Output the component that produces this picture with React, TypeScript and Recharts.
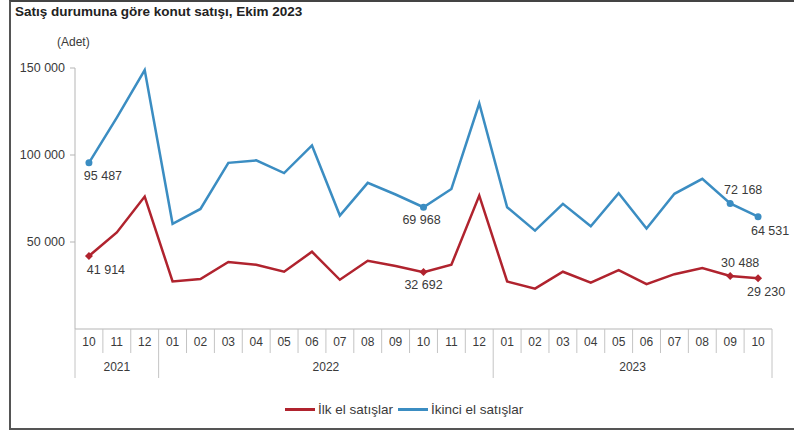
import { LineChart, Line, XAxis, YAxis, LabelList } from 'recharts';

const months = ['10', '11', '12', '01', '02', '03', '04', '05', '06', '07', '08', '09', '10', '11', '12', '01', '02', '03', '04', '05', '06', '07', '08', '09', '10'];
const years = ['2021', '2022', '2023'];
const yearStart = [0, 3, 15];
const ilkEl = [41914, 55500, 76100, 27300, 28700, 38500, 36900, 32900, 44400, 28300, 39200, 36200, 32692, 36900, 76700, 27300, 23200, 32900, 26700, 33800, 25800, 31500, 35000, 30488, 29230];
const ikinciEl = [95487, 121500, 148800, 60500, 69000, 95500, 96900, 89600, 105500, 65200, 84000, 77300, 69968, 80500, 129600, 70000, 56500, 71900, 59000, 78000, 57800, 77700, 86300, 72168, 64531];
const yTicks = [50000, 100000, 150000];
const labeled = [0, 12, 23, 24];

const W = 794;
const H = 432;
const MARGIN = { top: 68, right: 22, left: 8, bottom: 43 };
const Y_W = 67;
const X_H = 60;
const AXIS_Y = H - MARGIN.bottom - X_H;
const BAND = (W - MARGIN.left - Y_W - MARGIN.right) / months.length;
const FONT = '"Liberation Sans", Arial, sans-serif';
const RED = '#B0232E';
const BLUE = '#3B8DC2';
const TEXT = '#3a3a3a';
const SEP = '#c4c4c4';

// label offsets (dx, dy) for the marked points
const ilkOffsets: Record<number, [number, number]> = { 0: [17, 14], 12: [0, 13], 23: [10, -13], 24: [8, 14] };
const ikinciOffsets: Record<number, [number, number]> = { 0: [14, 13], 12: [-2, 13], 23: [13, -13], 24: [12, 14] };

const data = months.map((m, i) => ({ idx: i, month: m, ilk: ilkEl[i], ikinci: ikinciEl[i] }));

const fmt = (v: number) => String(v).replace(/\B(?=(\d{3})+(?!\d))/g, ' ');

function MonthTick(props: any) {
  const { x, payload } = props;
  const i: number = payload.index ?? props.index;
  const left = x - BAND / 2;
  const yi = yearStart.indexOf(i);
  const nextStart = yi >= 0 ? (yearStart[yi + 1] ?? months.length) : 0;
  return (
    <g>
      <line x1={left} x2={left} y1={AXIS_Y} y2={AXIS_Y + (yi >= 0 ? 49 : 24)} stroke={SEP} />
      {i === months.length - 1 && (
        <line x1={x + BAND / 2} x2={x + BAND / 2} y1={AXIS_Y} y2={AXIS_Y + 49} stroke={SEP} />
      )}
      <text x={x} y={AXIS_Y + 13} textAnchor="middle" dominantBaseline="central" fontSize={12} fill={TEXT} fontFamily={FONT}>
        {months[i]}
      </text>
      {yi >= 0 && (
        <text
          x={left + ((nextStart - i) * BAND) / 2}
          y={AXIS_Y + 38}
          textAnchor="middle"
          dominantBaseline="central"
          fontSize={12}
          fill={TEXT}
          fontFamily={FONT}
        >
          {years[yi]}
        </text>
      )}
    </g>
  );
}

function makeDot(color: string, diamond: boolean) {
  return (p: any) => {
    if (!labeled.includes(p.index)) return <g key={p.index} />;
    if (diamond) {
      const s = 4;
      return (
        <path
          key={p.index}
          d={`M${p.cx},${p.cy - s}L${p.cx + s},${p.cy}L${p.cx},${p.cy + s}L${p.cx - s},${p.cy}Z`}
          fill={color}
        />
      );
    }
    return <circle key={p.index} cx={p.cx} cy={p.cy} r={3.5} fill={color} />;
  };
}

function makeLabel(offsets: Record<number, [number, number]>) {
  return (p: any) => {
    const off = offsets[p.index];
    if (!off) return null;
    return (
      <text
        key={p.index}
        x={p.x + off[0]}
        y={p.y + off[1]}
        textAnchor="middle"
        dominantBaseline="central"
        fontSize={12.5}
        fill={TEXT}
        fontFamily={FONT}
      >
        {fmt(p.value)}
      </text>
    );
  };
}

export default function App() {
  return (
    <div style={{ position: 'absolute', left: 0, top: 0, width: W, height: H, background: '#fff', fontFamily: FONT, overflow: 'hidden' }}>
      <div
        style={{
          position: 'absolute',
          left: 9,
          top: 0,
          width: W,
          height: 426,
          borderLeft: '2px solid #555',
          borderTop: '2px solid #444',
          borderBottom: '2px solid #555',
        }}
      />
      <div style={{ position: 'absolute', left: 15, top: 4, fontSize: 13.5, fontWeight: 'bold', color: '#222', whiteSpace: 'nowrap' }}>
        Satış durumuna göre konut satışı, Ekim 2023
      </div>
      <div style={{ position: 'absolute', left: 57, top: 35, fontSize: 12, color: TEXT }}>(Adet)</div>
      <LineChart width={W} height={H} data={data} margin={MARGIN} style={{ position: 'absolute', left: 0, top: 0 }}>
        <XAxis
          dataKey="idx"
          type="category"
          height={X_H}
          interval={0}
          padding={{ left: BAND / 2, right: BAND / 2 }}
          tickLine={false}
          axisLine={{ stroke: '#b5b5b5' }}
          tick={<MonthTick />}
        />
        <YAxis
          width={Y_W}
          domain={[0, 150000]}
          ticks={yTicks}
          tickFormatter={fmt}
          tick={{ fontSize: 12.5, fill: TEXT, fontFamily: FONT }}
          tickLine={{ stroke: '#b5b5b5' }}
          tickSize={5}
          tickMargin={5}
          axisLine={{ stroke: '#b5b5b5' }}
        />
        <Line
          type="linear"
          dataKey="ilk"
          stroke={RED}
          strokeWidth={2.5}
          dot={makeDot(RED, true)}
          activeDot={false}
          isAnimationActive={false}
        >
          <LabelList dataKey="ilk" content={makeLabel(ilkOffsets)} />
        </Line>
        <Line
          type="linear"
          dataKey="ikinci"
          stroke={BLUE}
          strokeWidth={2.5}
          dot={makeDot(BLUE, false)}
          activeDot={false}
          isAnimationActive={false}
        >
          <LabelList dataKey="ikinci" content={makeLabel(ikinciOffsets)} />
        </Line>
      </LineChart>
      <div style={{ position: 'absolute', left: 285, top: 402, display: 'flex', alignItems: 'center', fontSize: 13.5, color: TEXT, whiteSpace: 'nowrap' }}>
        <span style={{ display: 'inline-block', width: 30, height: 2.5, background: RED, marginRight: 3 }} />
        <span style={{ marginRight: 5 }}>İlk el satışlar</span>
        <span style={{ display: 'inline-block', width: 30, height: 2.5, background: BLUE, marginRight: 3 }} />
        <span>İkinci el satışlar</span>
      </div>
    </div>
  );
}
